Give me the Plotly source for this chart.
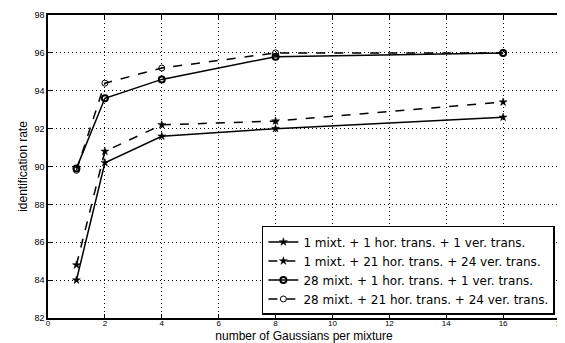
import plotly.graph_objects as go

x_vals = [1, 2, 4, 8, 16]
s1 = [84.0, 90.2, 91.6, 92.0, 92.6]
s2 = [84.8, 90.8, 92.2, 92.4, 93.4]
s3 = [89.9, 93.6, 94.6, 95.8, 96.0]
s4 = [89.8, 94.4, 95.2, 96.0, 96.0]
names = [
    "1 mixt. + 1 hor. trans. + 1 ver. trans.",
    "1 mixt. + 21 hor. trans. + 24 ver. trans.",
    "28 mixt. + 1 hor. trans. + 1 ver. trans.",
    "28 mixt. + 21 hor. trans. + 24 ver. trans.",
]
x_ticks = [0, 2, 4, 6, 8, 10, 12, 14, 16, 18]
y_ticks = [82, 84, 86, 88, 90, 92, 94, 96, 98]

styles = [
    dict(dash="solid", symbol="star", msize=6, mlw=0.5),
    dict(dash="dash", symbol="star", msize=6, mlw=0.5),
    dict(dash="solid", symbol="circle-open", msize=6, mlw=2),
    dict(dash="dash", symbol="circle-open", msize=6, mlw=1),
]

fig = go.Figure()
for ys, nm, st in zip([s1, s2, s3, s4], names, styles):
    fig.add_trace(go.Scatter(
        x=x_vals, y=ys, name=nm, mode="lines+markers",
        line=dict(color="black", width=1.5, dash=st["dash"]),
        marker=dict(symbol=st["symbol"], size=st["msize"], color="black",
                    line=dict(color="black", width=st["mlw"])),
    ))

axis_common = dict(
    showline=True, linecolor="black", linewidth=1.5, mirror="allticks",
    ticks="inside", ticklen=4, tickcolor="black",
    showgrid=True, gridcolor="black", griddash="1px,3px", gridwidth=1,
    zeroline=False,
)

fig.update_xaxes(range=[0, 18], tickvals=x_ticks, ticklabelstandoff=-3,
                 automargin=False,
                 tickfont=dict(family="Arial", size=8, color="black"),
                 title=dict(text="number of Gaussians per mixture",
                            font=dict(family="Arial", size=12, color="black")),
                 **axis_common)
fig.update_yaxes(range=[82, 98], tickvals=y_ticks, automargin=True,
                 tickfont=dict(family="Arial", size=9, color="black"),
                 title=dict(text="identification rate", standoff=4,
                            font=dict(family="Arial", size=12, color="black")),
                 **axis_common)

# page body has an 8px margin, so the figure is sized/offset to compensate
fig.update_layout(
    width=557, height=335,
    margin=dict(l=40, r=5, t=7, b=25, autoexpand=False),
    paper_bgcolor="white", plot_bgcolor="white",
    showlegend=True,
    legend=dict(x=0.99, y=0.01, xanchor="right", yanchor="bottom",
                bgcolor="white", bordercolor="black", borderwidth=1.5,
                font=dict(family="DejaVu Sans", size=12, color="black"),
                tracegroupgap=0, itemwidth=30),
)

fig.write_html("out.html")
